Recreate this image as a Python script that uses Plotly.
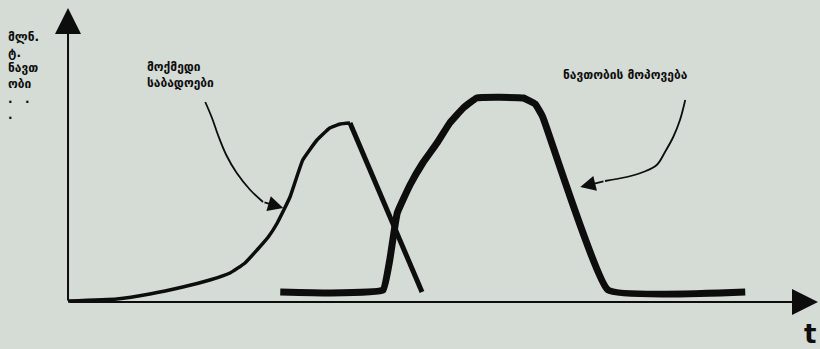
import plotly.graph_objects as go

BG = "#d5dbd5"
INK = "#0d0d0d"

# ── Curve data (t in arbitrary time units, value in mln t) ─────────────────────
# active deposits
deposits_t = [0, 6.5, 10.9, 15.3, 18.9, 21.6, 23.6, 25.2, 26.7, 27.9, 29.6,
              31.3, 33.2, 34.9, 36.3, 37.6, 47.2]
deposits_v = [0.5, 1.5, 4, 7.5, 11, 14.5, 19.5, 26, 32.5, 39.5, 52.5,
              71, 81, 87, 89, 89.5, 5]

# oil production
oil_t = [28.3, 34.9, 42.0, 42.9, 43.9, 45.6, 47.3, 49.2, 50.9, 52.7, 54.5,
         60.7, 62.3, 63.3, 72.0, 90.3]
oil_v = [5, 4.5, 6, 21, 44.5, 58.5, 69.5, 79.5, 89.5, 97, 102,
         102, 99, 92.5, 6, 5]

# pointer lines from the labels
ptr1_t = [18.3, 19.2, 20.0, 21.1, 22.5, 24.3, 26.0, 28.7]
ptr1_v = [100, 92, 83.5, 73.5, 64.5, 56, 50, 47]
ptr2_t = [82.3, 81.6, 80.7, 79.6, 78.5, 76.7, 74.5, 71.6, 68.3]
ptr2_v = [101, 91, 82.5, 75, 68.5, 65, 62.5, 60.5, 57.5]

T_MAX = 100
V_MAX = 147

fig = go.Figure()

# rising part of deposits curve is thinner than the falling straight line
fig.add_trace(go.Scatter(
    x=deposits_t[:-1], y=deposits_v[:-1], mode="lines",
    line=dict(color=INK, width=3.5, shape="spline", smoothing=0.35),
    hoverinfo="skip",
))
fig.add_trace(go.Scatter(
    x=deposits_t[-2:], y=deposits_v[-2:], mode="lines",
    line=dict(color=INK, width=5),
    hoverinfo="skip",
))
fig.add_trace(go.Scatter(
    x=oil_t, y=oil_v, mode="lines",
    line=dict(color=INK, width=7, shape="spline", smoothing=0.3),
    hoverinfo="skip",
))

for pt, pv in [(ptr1_t, ptr1_v), (ptr2_t, ptr2_v)]:
    fig.add_trace(go.Scatter(
        x=pt[:-1], y=pv[:-1], mode="lines",
        line=dict(color=INK, width=1.8, shape="spline"),
        hoverinfo="skip",
    ))
    fig.add_annotation(
        x=pt[-1], y=pv[-1], ax=pt[-2], ay=pv[-2],
        axref="x", ayref="y", xref="x", yref="y",
        text="", showarrow=True, arrowhead=2, arrowsize=1.7,
        arrowwidth=1.8, arrowcolor=INK,
    )

# axes with arrowheads
fig.add_annotation(x=0, y=V_MAX, ax=0, ay=0, axref="x", ayref="y",
                   text="", showarrow=True, arrowhead=2, arrowsize=2.6,
                   arrowwidth=2, arrowcolor=INK)
fig.add_annotation(x=T_MAX, y=0, ax=0, ay=0, axref="x", ayref="y",
                   text="", showarrow=True, arrowhead=2, arrowsize=2.6,
                   arrowwidth=2, arrowcolor=INK)

FONT = "DejaVu Sans"
fig.add_annotation(x=-8.3, y=137, xref="x", yref="y", xanchor="left",
                   yanchor="top", align="left", showarrow=False,
                   text="<b>მლნ.<br>ტ.<br>ნავთ<br>ობი<br>.   .<br>.</b>",
                   font=dict(family=FONT, size=12, color=INK))
fig.add_annotation(x=10.2, y=122, xref="x", yref="y", xanchor="left",
                   yanchor="top", align="left", showarrow=False,
                   text="<b>მოქმედი<br>საბადოები</b>",
                   font=dict(family=FONT, size=12, color=INK))
fig.add_annotation(x=65.8, y=113.5, xref="x", yref="y", xanchor="left",
                   yanchor="middle", showarrow=False,
                   text="<b>ნავთობის მოპოვება</b>",
                   font=dict(family=FONT, size=12, color=INK))
fig.add_annotation(x=99, y=-16, xref="x", yref="y", showarrow=False,
                   text="<b>t</b>", font=dict(family=FONT, size=26, color=INK))

fig.update_layout(
    width=820, height=349,
    margin=dict(l=0, r=0, t=0, b=0),
    showlegend=False,
    paper_bgcolor=BG, plot_bgcolor=BG,
    xaxis=dict(range=[-9.07, 100.27], visible=False),
    yaxis=dict(range=[-23.5, 151], visible=False),
)

fig.write_html(
    "out.html",
    config={"displayModeBar": False},
    post_script=f"document.body.style.margin='0';"
                f"document.body.style.background='{BG}';",
)
